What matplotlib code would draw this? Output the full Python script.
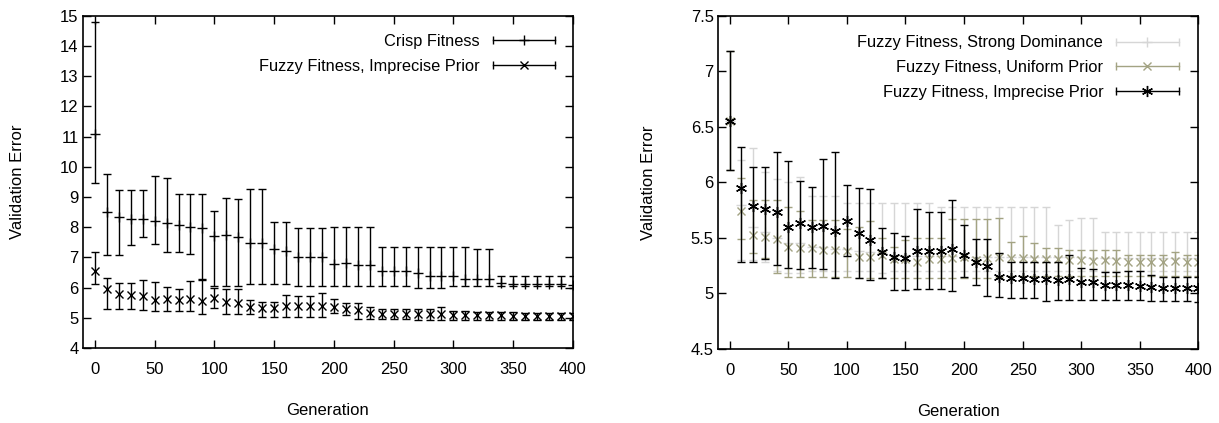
import numpy as np
import matplotlib
matplotlib.use('Agg')
import matplotlib.pyplot as plt
from matplotlib.lines import Line2D
from matplotlib.legend_handler import HandlerBase

plt.rcParams['font.family'] = ['Liberation Sans', 'DejaVu Sans']
plt.rcParams['font.size'] = 12

# Generations sampled every 10
gens = np.arange(0, 401, 10)

# Crisp fitness: mean, upper and lower bar ends
crisp_mean = [11.07, 8.52, 8.35, 8.26, 8.26, 8.2, 8.13, 8.08, 8.0, 7.96, 7.72, 7.73, 7.69, 7.49,
              7.49, 7.27, 7.21, 7.0, 7.0, 7.02, 6.77, 6.8, 6.75, 6.75, 6.56, 6.54, 6.54, 6.5,
              6.37, 6.37, 6.37, 6.3, 6.3, 6.3, 6.15, 6.12, 6.12, 6.12, 6.12, 6.12, 6.09]
crisp_hi = [14.8, 9.77, 9.23, 9.23, 9.23, 9.69, 9.64, 9.1, 9.1, 9.1, 8.55, 8.98, 8.93, 9.28,
            9.28, 8.18, 8.18, 7.96, 7.96, 7.96, 8.0, 8.0, 8.0, 8.0, 7.36, 7.36, 7.36, 7.36,
            7.36, 7.36, 7.36, 7.36, 7.29, 7.29, 6.39, 6.39, 6.39, 6.39, 6.39, 6.39, 6.39]
crisp_lo = [9.47, 7.08, 7.07, 7.41, 7.69, 7.43, 7.18, 7.18, 7.1, 6.28, 6.04, 6.04, 6.04, 6.12,
            6.12, 6.11, 6.11, 6.06, 6.06, 6.06, 6.06, 6.06, 6.06, 6.06, 6.06, 6.06, 6.06, 5.99,
            5.99, 5.99, 6.04, 6.04, 6.04, 6.04, 6.04, 6.04, 6.04, 6.04, 6.04, 6.04, 6.0]

# Fuzzy fitness, imprecise prior
imp_mean = [6.555, 5.95, 5.79, 5.76, 5.73, 5.6, 5.63, 5.6, 5.61, 5.56, 5.65, 5.54, 5.48, 5.37,
            5.33, 5.32, 5.38, 5.38, 5.38, 5.4, 5.35, 5.28, 5.25, 5.15, 5.14, 5.14, 5.13, 5.13,
            5.12, 5.13, 5.1, 5.1, 5.08, 5.08, 5.08, 5.07, 5.06, 5.05, 5.05, 5.05, 5.05]
imp_hi = [7.18, 6.32, 6.14, 6.14, 6.27, 6.19, 6.01, 5.96, 6.21, 6.27, 5.98, 5.95, 5.94, 5.59,
          5.54, 5.52, 5.76, 5.73, 5.73, 5.84, 5.62, 5.49, 5.49, 5.36, 5.28, 5.28, 5.28, 5.28,
          5.28, 5.35, 5.23, 5.22, 5.19, 5.19, 5.2, 5.2, 5.17, 5.15, 5.15, 5.15, 5.15]
imp_lo = [6.11, 5.28, 5.28, 5.31, 5.26, 5.23, 5.22, 5.23, 5.22, 5.14, 5.34, 5.14, 5.12, 5.14,
          5.03, 5.03, 5.04, 5.04, 5.04, 5.02, 5.15, 5.08, 4.98, 4.97, 4.96, 4.96, 4.96, 4.93,
          4.94, 4.94, 4.94, 4.94, 4.94, 4.94, 4.94, 4.94, 4.93, 4.93, 4.93, 4.93, 4.92]

# Fuzzy fitness, uniform prior
uni_mean = [6.555, 5.74, 5.53, 5.51, 5.49, 5.42, 5.41, 5.41, 5.39, 5.39, 5.38, 5.33, 5.33, 5.35,
            5.31, 5.31, 5.28, 5.31, 5.31, 5.32, 5.33, 5.3, 5.32, 5.33, 5.32, 5.32, 5.31, 5.31,
            5.31, 5.3, 5.3, 5.29, 5.3, 5.29, 5.28, 5.28, 5.28, 5.28, 5.29, 5.28, 5.28]
uni_hi = [7.18, 6.04, 5.84, 5.84, 5.84, 5.78, 5.74, 5.66, 5.66, 5.66, 5.58, 5.6, 5.65, 5.5,
          5.42, 5.48, 5.5, 5.5, 5.5, 5.67, 5.67, 5.67, 5.67, 5.68, 5.46, 5.52, 5.45, 5.41,
          5.41, 5.39, 5.39, 5.39, 5.39, 5.39, 5.35, 5.35, 5.35, 5.35, 5.37, 5.35, 5.35]
uni_lo = [6.11, 5.49, 5.36, 5.32, 5.18, 5.15, 5.15, 5.15, 5.15, 5.15, 5.15, 5.14, 5.14, 5.14,
          5.14, 5.14, 5.14, 5.14, 5.14, 5.14, 5.14, 5.14, 5.14, 5.15, 5.16, 5.16, 5.16, 5.16,
          5.16, 5.16, 5.16, 5.16, 5.16, 5.16, 5.16, 5.16, 5.16, 5.16, 5.16, 5.16, 5.16]

# Fuzzy fitness, strong dominance
str_mean = [6.555, 5.8, 5.6, 5.55, 5.5, 5.45, 5.45, 5.42, 5.42, 5.4, 5.4, 5.38, 5.37, 5.36,
            5.35, 5.35, 5.34, 5.34, 5.34, 5.34, 5.33, 5.33, 5.33, 5.33, 5.33, 5.33, 5.33, 5.33,
            5.33, 5.33, 5.33, 5.32, 5.32, 5.32, 5.32, 5.32, 5.32, 5.32, 5.32, 5.32, 5.32]
str_hi = [7.18, 6.2, 6.31, 6.09, 6.03, 6.0, 6.05, 5.88, 5.88, 5.88, 5.81, 5.81, 5.81, 5.81,
          5.81, 5.81, 5.81, 5.81, 5.78, 5.78, 5.78, 5.78, 5.78, 5.78, 5.78, 5.78, 5.78, 5.78,
          5.62, 5.66, 5.68, 5.68, 5.55, 5.55, 5.55, 5.55, 5.55, 5.55, 5.55, 5.55, 5.55]
str_lo = [6.11, 5.3, 5.3, 5.28, 5.2, 5.18, 5.18, 5.2, 5.2, 5.2, 5.2, 5.2, 5.2, 5.18,
          5.2, 5.2, 5.2, 5.2, 5.2, 5.2, 5.2, 5.2, 5.2, 5.2, 5.2, 5.2, 5.2, 5.2,
          5.2, 5.2, 5.2, 5.2, 5.2, 5.2, 5.2, 5.2, 5.2, 5.2, 5.2, 5.2, 5.2]

ASTERISK = (6, 2, 0)
OLIVE = '#a3a383'
LIGHT = '#d6d6d6'


class ErrBarLegend(HandlerBase):
    # gnuplot style key: horizontal line with end ticks, point in the middle
    def create_artists(self, legend, orig, xd, yd, w, h, fs, trans):
        y = h / 2 - yd
        x0, x1 = -xd, -xd + w
        c = orig.get_color()
        line = Line2D([x0, x1], [y, y], color=c, lw=1)
        caps = Line2D([x0, x1], [y, y], ls='none', marker='|', ms=6, mew=1, color=c)
        mk = Line2D([(x0 + x1) / 2], [y], ls='none', marker=orig.get_marker(),
                    ms=orig.get_markersize(), mew=1, color=c)
        for a in (line, caps, mk):
            a.set_transform(trans)
        return [line, caps, mk]


def errplot(ax, mean, lo, hi, color, marker, ms, label):
    mean = np.array(mean)
    yerr = [mean - np.array(lo), np.array(hi) - mean]
    ax.errorbar(gens, mean, yerr=yerr, fmt='none', ecolor=color, elinewidth=1,
                capsize=3.2, capthick=1)
    ax.plot(gens, mean, ls='none', marker=marker, ms=ms, mew=1, color=color)
    return Line2D([], [], color=color, marker=marker, ms=ms, label=label)


def style_axes(ax):
    ax.set_xlim(-10, 400)
    ax.set_xticks(np.arange(0, 401, 50))
    ax.tick_params(direction='in', top=True, right=True, length=6, width=1)
    ax.tick_params(axis='x', pad=10)
    ax.tick_params(axis='y', pad=3)
    for s in ax.spines.values():
        s.set_linewidth(1.2)
    ax.set_xlabel('Generation', labelpad=19)
    ax.set_ylabel('Validation Error', labelpad=25)


fig = plt.figure(figsize=(12.19, 4.23), dpi=100)
ax1 = fig.add_axes([0.068, 0.177, 0.402, 0.786])
ax2 = fig.add_axes([0.589, 0.175, 0.394, 0.788])

# left panel
h1 = errplot(ax1, crisp_mean, crisp_lo, crisp_hi, 'black', '+', 7, 'Crisp Fitness')
h2 = errplot(ax1, imp_mean, imp_lo, imp_hi, 'black', 'x', 6, 'Fuzzy Fitness, Imprecise Prior')
ax1.set_ylim(4, 15)
ax1.set_yticks(np.arange(4, 16, 1))
style_axes(ax1)
ax1.legend(handles=[h1, h2], loc='upper right', frameon=False, markerfirst=False,
           fontsize=11.8, handlelength=3.8, labelspacing=0.6, borderaxespad=0.7,
           handler_map={Line2D: ErrBarLegend()})

# right panel
g1 = errplot(ax2, str_mean, str_lo, str_hi, LIGHT, '+', 7, 'Fuzzy Fitness, Strong Dominance')
g2 = errplot(ax2, uni_mean, uni_lo, uni_hi, OLIVE, 'x', 6, 'Fuzzy Fitness, Uniform Prior')
g3 = errplot(ax2, imp_mean, imp_lo, imp_hi, 'black', ASTERISK, 8, 'Fuzzy Fitness, Imprecise Prior')
ax2.set_ylim(4.5, 7.5)
ax2.set_yticks(np.arange(4.5, 7.6, 0.5))
ax2.set_yticklabels(['4.5', '5', '5.5', '6', '6.5', '7', '7.5'])
style_axes(ax2)
ax2.legend(handles=[g1, g2, g3], loc='upper right', frameon=False, markerfirst=False,
           fontsize=11.8, handlelength=3.8, labelspacing=0.6, borderaxespad=0.8,
           handler_map={Line2D: ErrBarLegend()})

fig.savefig('out.png', dpi=100)
